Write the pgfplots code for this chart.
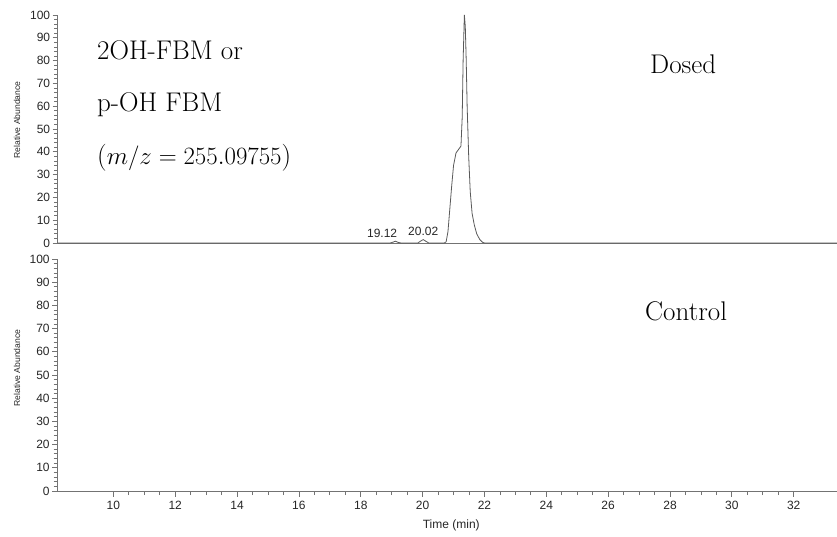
\documentclass[border=0pt]{standalone}
\usepackage{fontspec}
\usepackage{pgfplots}
\pgfplotsset{compat=1.18}
\newfontfamily\arialfont{Liberation Sans}
\definecolor{axgray}{gray}{0.45}
\definecolor{trace}{gray}{0.35}
\pgfplotsset{
  chrom/.style={
    scale only axis,
    width=779.3pt,
    xmin=8.2, xmax=33.4,
    ymin=0, ymax=100,
    axis x line=bottom,
    axis y line=left,
    axis line style={-, draw=axgray, line width=0.9pt},
    tick style={draw=axgray, line width=0.8pt},
    tick align=outside,
    ytick={0,10,...,100},
    minor y tick num=4,
    major tick length=5pt,
    minor tick length=3.5pt,
    ticklabel style={font=\arialfont\fontsize{12}{12}\selectfont, text=black!85},
    /pgf/number format/assume math mode=true,
    yticklabel style={xshift=1pt},
    clip=false,
    ylabel={Relative Abundance},
    ylabel style={at={(axis description cs:-0.052,0.54)}, anchor=center, rotate=0,
      font=\arialfont\fontsize{8.6}{9}\selectfont, text=black!85},
  }
}
\begin{document}
\begin{tikzpicture}
\path[use as bounding box] (0,0) rectangle (837pt,536pt);
% top panel (Dosed)
\begin{axis}[chrom,
  at={(57.7pt,293pt)}, anchor=south west,
  height=228pt,
  xtick=\empty,
]
\addplot[trace, line width=0.8pt] coordinates {
(8.2,0) (18.95,0) (19.05,0.4) (19.12,0.8) (19.2,0.3) (19.3,0)
(19.85,0) (19.93,0.8) (20.02,1.5) (20.1,0.8) (20.2,0)
(20.70,0) (20.76,0.5) (20.82,5) (20.88,15) (20.94,25) (21.00,34)
(21.08,39.5) (21.16,41) (21.24,42.5) (21.28,55) (21.31,80) (21.35,100)
(21.38,95) (21.41,80) (21.44,60) (21.49,38) (21.54,22.5) (21.60,13)
(21.67,8) (21.75,4) (21.85,1.5) (21.94,0.3) (22.0,0) (33.4,0)
};
\node[anchor=base, inner sep=0pt, font=\arialfont\fontsize{12}{12}\selectfont, text=black!85] at (axis cs:18.69,2.6) {19.12};
\node[anchor=base, inner sep=0pt, font=\arialfont\fontsize{12}{12}\selectfont, text=black!85] at (axis cs:20.02,3.4) {20.02};
\end{axis}
% bottom panel (Control)
\begin{axis}[chrom,
  at={(57.7pt,45pt)}, anchor=south west,
  height=232pt,
  xtick={10,12,...,32},
  minor x tick num=3,
  major tick length=5.5pt,
  minor tick length=4pt,
  xticklabel style={yshift=-1pt},
  xlabel={Time (min)},
  xlabel style={at={(axis description cs:0.505,-0.147)}, anchor=center,
    font=\arialfont\fontsize{12}{12}\selectfont, text=black!85},
  ylabel style={at={(axis description cs:-0.052,0.53)}},
]
\addplot[draw=none] coordinates {(8.2,0) (33.4,0)};
\end{axis}
% annotations
\begin{scope}[every node/.style={inner sep=0pt, font=\fontsize{27}{30}\selectfont}]
\node[anchor=base west] at (97pt,476pt) {2OH-FBM or};
\node[anchor=base west] at (97pt,424pt) {p-OH FBM};
\node[anchor=base west] at (97pt,371pt) {($m/z = 255.09755$)};
\node[anchor=base west] at (650pt,462pt) {Dosed};
\node[anchor=base west] at (645pt,216pt) {Control};
\end{scope}
\end{tikzpicture}
\end{document}
